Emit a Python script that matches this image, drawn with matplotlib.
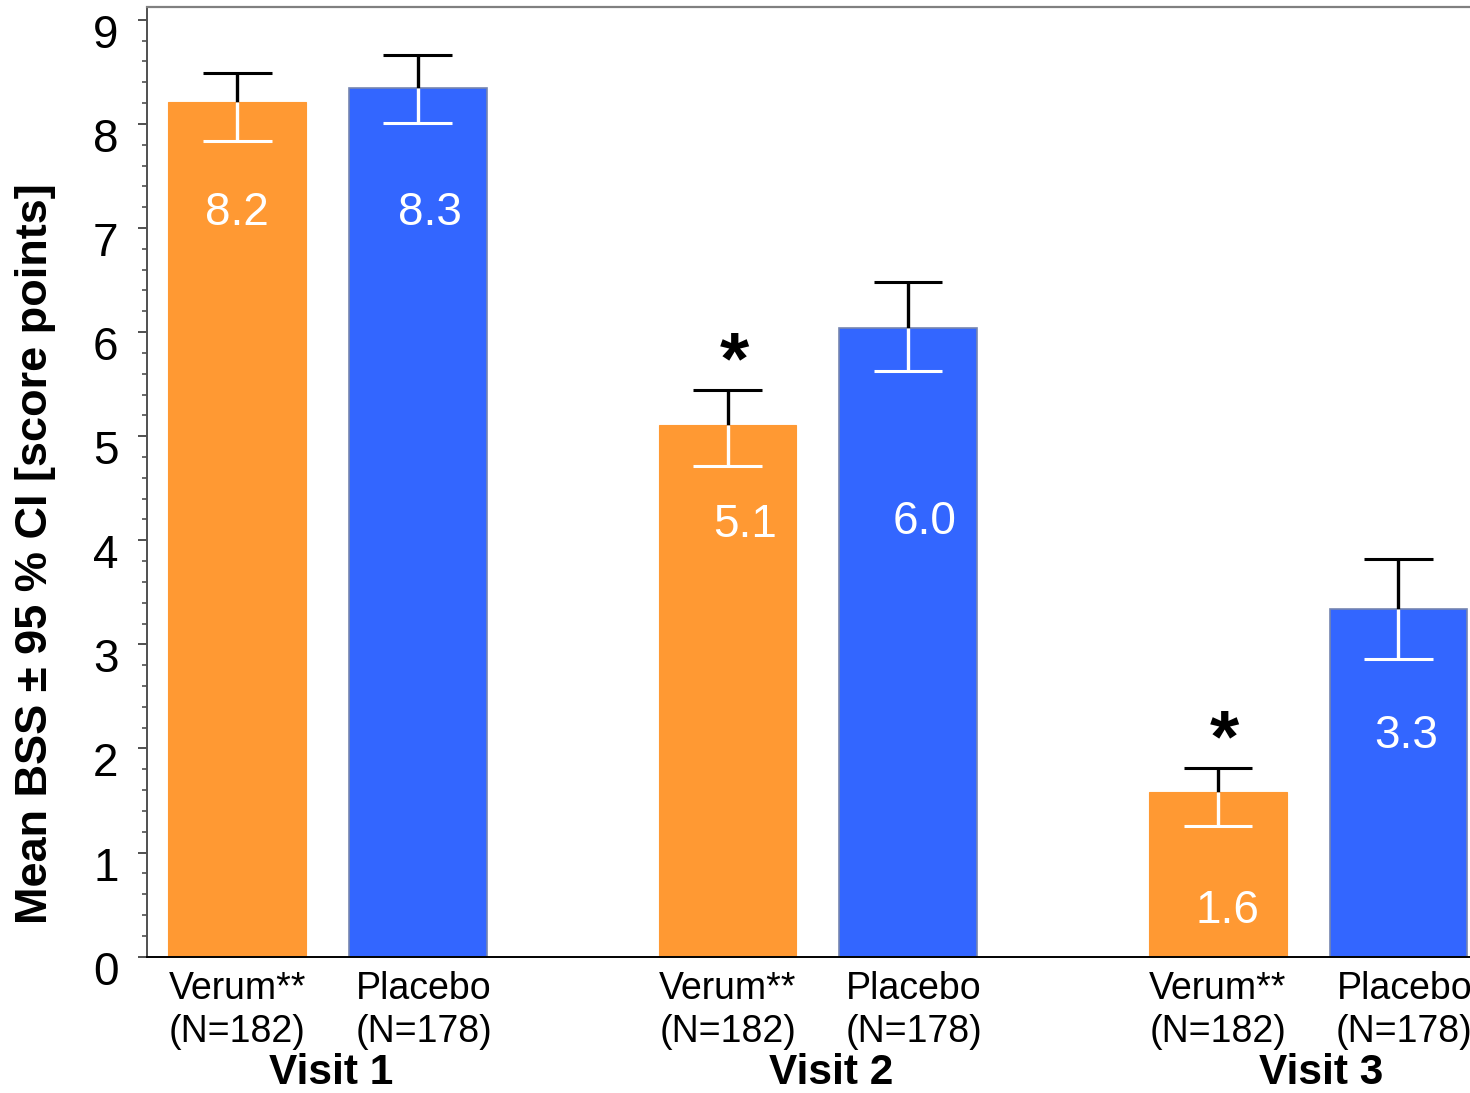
import matplotlib
matplotlib.use("Agg")
import matplotlib.pyplot as plt
import matplotlib.transforms as mtransforms
from matplotlib.ticker import MultipleLocator
import numpy as np

plt.rcParams['font.family'] = ['Liberation Sans', 'DejaVu Sans']

# ---- data ----
visits = ["Visit 1", "Visit 2", "Visit 3"]
verum_label = "Verum**\n(N=182)"
placebo_label = "Placebo\n(N=178)"

verum_mean = [8.21, 5.11, 1.58]
verum_ci_low = [7.84, 4.71, 1.26]
verum_ci_high = [8.49, 5.44, 1.81]

placebo_mean = [8.34, 6.04, 3.34]
placebo_ci_low = [8.01, 5.63, 2.86]
placebo_ci_high = [8.66, 6.48, 3.82]

significant = [False, True, True]  # verum vs placebo, marked with *

# ---- layout ----
offset = 0.184
bar_w = 0.281
cap_half = 0.07
verum_text_y = [7.03, 4.03, 0.32]
verum_text_dx = [0.0, 0.035, 0.02]
placebo_text_y = [7.03, 4.06, 2.00]
placebo_text_dx = [0.024, 0.033, 0.015]
visit_dx = [0.008, 0.027, 0.027]

orange = "#FF9933"
blue = "#3366FF"

fig = plt.figure(figsize=(14.7, 10.93), dpi=100)
ax = fig.add_axes([147 / 1470, 1 - 956.7 / 1093, 1 - 147 / 1470, (956.7 - 7.3) / 1093])

g = np.arange(len(visits))
xv = g - offset
xp = g + offset

ax.bar(xv, verum_mean, width=bar_w, color=orange, edgecolor=orange, linewidth=0.8, zorder=2)
ax.bar(xp, placebo_mean, width=bar_w, color=blue, edgecolor="#7585b0", linewidth=1.2, zorder=2)


def ci(x, m, lo, hi):
    # upper half of the interval above the bar in black, lower half inside in white
    ax.plot([x, x], [m, hi], color="black", lw=2.4, zorder=3, solid_capstyle="butt")
    ax.plot([x - cap_half, x + cap_half], [hi, hi], color="black", lw=2.2, zorder=3,
            solid_capstyle="butt")
    ax.plot([x, x], [lo, m], color="white", lw=2.4, zorder=3, solid_capstyle="butt")
    ax.plot([x - cap_half, x + cap_half], [lo, lo], color="white", lw=2.2, zorder=3,
            solid_capstyle="butt")


for i in range(len(visits)):
    ci(xv[i], verum_mean[i], verum_ci_low[i], verum_ci_high[i])
    ci(xp[i], placebo_mean[i], placebo_ci_low[i], placebo_ci_high[i])
    ax.text(xv[i] + verum_text_dx[i], verum_text_y[i], f"{verum_mean[i]:.1f}",
            color="white", fontsize=33, ha="center", va="baseline", zorder=4)
    ax.text(xp[i] + placebo_text_dx[i], placebo_text_y[i], f"{placebo_mean[i]:.1f}",
            color="white", fontsize=33, ha="center", va="baseline", zorder=4)
    if significant[i]:
        ax.text(xv[i] + 0.014, verum_ci_high[i] + 0.07, "*", fontsize=54, fontweight="bold",
                ha="center", va="baseline", zorder=4)

ax.set_xlim(-0.368, 2.330)
ax.set_ylim(0, 9.12)

# axes styling
ax.spines["right"].set_visible(False)
ax.spines["top"].set_color("#808080")
ax.spines["top"].set_linewidth(1.6)
ax.spines["left"].set_color("#505050")
ax.spines["left"].set_linewidth(1.4)
ax.spines["bottom"].set_color("black")
ax.spines["bottom"].set_linewidth(1.4)

ax.yaxis.set_major_locator(MultipleLocator(1))
ax.yaxis.set_minor_locator(MultipleLocator(0.2))
ax.tick_params(axis="y", which="major", length=6.5, width=1.4, color="#505050",
               labelsize=33, pad=14)
ax.tick_params(axis="y", which="minor", length=3.6, width=1.2, color="#505050")
shift = mtransforms.ScaledTranslation(0, -11 / 100, fig.dpi_scale_trans)
for lab in ax.get_yticklabels():
    lab.set_transform(lab.get_transform() + shift)

ax.set_xticks(np.concatenate([xv, xp]))
ax.set_xticklabels([verum_label] * 3 + [placebo_label] * 3, fontsize=27, linespacing=1.25)
ax.tick_params(axis="x", length=0, pad=10)
# placebo captions sit a little right of their bars
pshift = mtransforms.ScaledTranslation(6 / 100, 0, fig.dpi_scale_trans)
for lab in ax.get_xticklabels()[3:]:
    lab.set_transform(lab.get_transform() + pshift)

blend = mtransforms.blended_transform_factory(ax.transData, fig.transFigure)
for i, v in enumerate(visits):
    ax.text(g[i] + visit_dx[i], 1 - 1084 / 1093, v, transform=blend, fontsize=30.5,
            fontweight="bold", ha="center", va="baseline")

fig.text(36 / 1470, 1 - 554 / 1093, "Mean BSS \u00b1 95 % CI [score points]",
         rotation=90, fontsize=32.5, fontweight="bold", ha="center", va="center")

fig.savefig("out.png", dpi=100)
